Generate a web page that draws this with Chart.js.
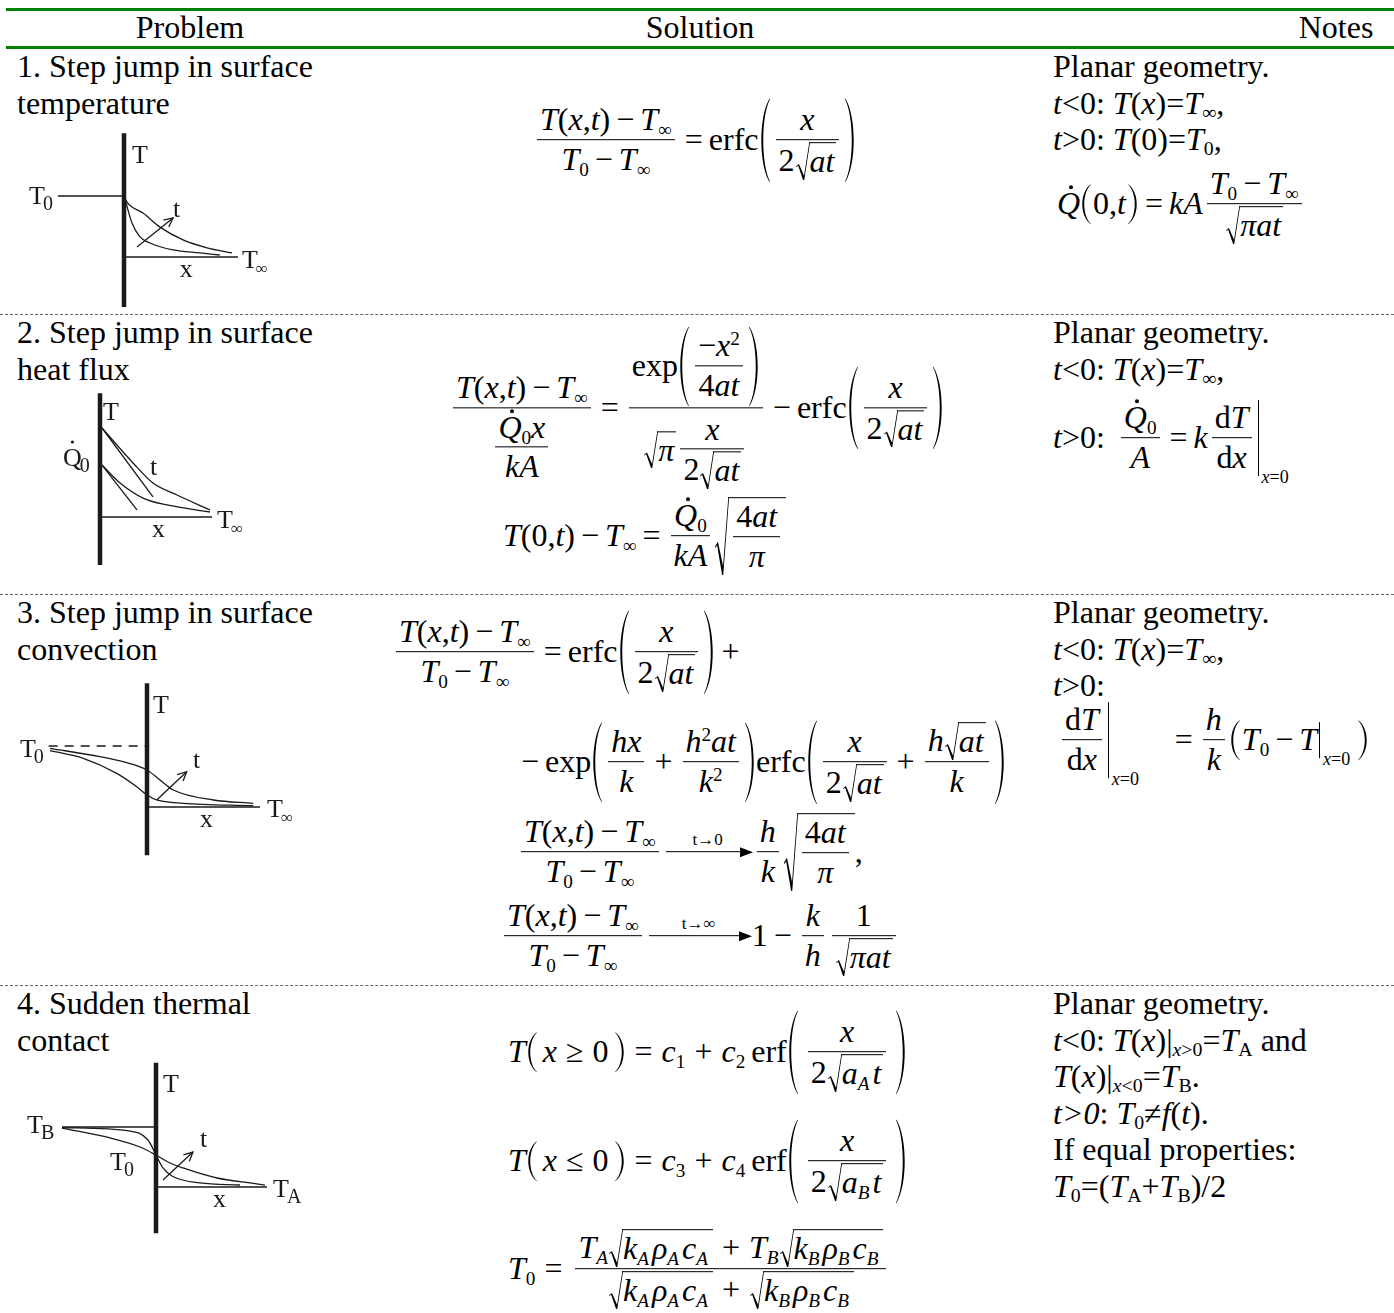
<!DOCTYPE html>
<html>
<head>
<meta charset="utf-8">
<title>Transient conduction in a semi-infinite solid</title>
<script src="https://cdn.jsdelivr.net/npm/chart.js@4.4.1/dist/chart.umd.min.js"></script>
<style>
    body { margin: 0; width: 1394px; height: 1313px; overflow: hidden; background: #fff; color: #000;
           font-family: "Liberation Serif", "Times New Roman", serif; position: relative; }
    .txt { position: absolute; font-size: 32px; line-height: 36.5px; white-space: nowrap; }
    .txt sub { font-size: .62em; vertical-align: -.25em; line-height: 0; }
    .hl { position: absolute; left: 6px; right: 0; height: 3px; background: #008000; }
    .sep { position: absolute; left: 0; right: 0; border-top: 1px dashed #666; }

    /* equation layout */
    .eq { position: absolute; display: flex; align-items: center; font-size: 32px; line-height: 1.12;
          white-space: nowrap; transform: translateY(-50%); }
    .eq i { font-family: "Liberation Serif", "Times New Roman", serif; font-style: italic; }
    .rw { display: flex; align-items: center; }
    .fr { display: inline-grid; grid-template-rows: 1fr 1fr; margin: 0 4px; }
    .nu { display: flex; align-items: flex-end; justify-content: center; border-bottom: 1.5px solid #000; padding: 0 3px 1px; }
    .de { display: flex; align-items: flex-start; justify-content: center; padding: 2px 3px 0; }
    .pw { display: flex; align-items: stretch; margin: 0 1px; }
    .pl, .pr { width: 10px; flex: none; background-repeat: no-repeat; background-size: 100% 100%;
               background-image: url("data:image/svg+xml;utf8,<svg xmlns='http://www.w3.org/2000/svg' viewBox='0 0 10 100' preserveAspectRatio='none'><path d='M9.6 0.5 C-1.5 22 -1.5 78 9.6 99.5 L10 99 C1 78 1 22 10 1 Z'/></svg>"); }
    .pr { transform: scaleX(-1); }
    .pc { padding: 2px 2px; }
    .rt { display: flex; align-items: stretch; margin-left: 1px; }
    .rs { width: 14px; flex: none; background-repeat: no-repeat; background-size: 100% 100%;
          background-image: url("data:image/svg+xml;utf8,<svg xmlns='http://www.w3.org/2000/svg' viewBox='0 0 16 100' preserveAspectRatio='none'><path d='M0 63 L3.4 57 L9.2 88 L15.2 0 L16 0 L16 1.6 L9.4 100 L8.2 100 L2.4 61 L0.7 65 Z'/></svg>"); }
    .rc { display: flex; align-items: center; border-top: 1.5px solid #000; padding: 1px 2px 0 1px; margin-left: -1px; }
    .s sub { font-size: .6em; vertical-align: -.3em; line-height: 0; }
    .s sup { font-size: .6em; vertical-align: .6em; line-height: 0; }
    .op { margin: 0 6px; }
    .wide .op { margin: 0 9px; }
    .wide .pc { padding: 2px 6px; }
    .wide .rc .s { margin-right: 3px; }
    .dt { position: relative; display: inline-block; }
    .dt::after { content: ""; position: absolute; width: 4px; height: 4px; border-radius: 50%; background: #000; left: 50%; top: -1px; }
    .ev { align-self: stretch; border-left: 1.5px solid #000; position: relative; margin-left: 2px; flex: none; }
    .evs { position: absolute; left: 3px; bottom: -10px; font-size: 18px; line-height: 1; }
    .ar { display: inline-grid; grid-template-rows: 1fr 1fr; margin: 0 3px; }
    .arl { position: relative; text-align: center; font-size: 17px; line-height: 1; border-bottom: 1.5px solid #000; padding-bottom: 3px; }
    .arl::after { content: ""; position: absolute; right: -3px; bottom: -6.5px; border-left: 13px solid #000;
                  border-top: 5.5px solid transparent; border-bottom: 5.5px solid transparent; }
</style>
</head>
<body>

<!-- header rules and column titles -->
<div class="hl" style="top:8px"></div>
<div class="txt" style="left:190px;top:9px;transform:translateX(-50%)">Problem</div>
<div class="txt" style="left:700px;top:9px;transform:translateX(-50%)">Solution</div>
<div class="txt" style="left:1336px;top:9px;transform:translateX(-50%)">Notes</div>
<div class="hl" style="top:46px"></div>

<div class="sep" style="top:314px"></div>
<div class="sep" style="top:594px"></div>
<div class="sep" style="top:985px"></div>

<!-- problem column -->
<div class="txt" style="left:17px;top:48px">1. Step jump in surface<br>temperature</div>
<div class="txt" style="left:17px;top:314px">2. Step jump in surface<br>heat flux</div>
<div class="txt" style="left:17px;top:594px">3. Step jump in surface<br>convection</div>
<div class="txt" style="left:17px;top:985px">4. Sudden thermal<br>contact</div>

<!-- notes column -->
<div class="txt" style="left:1053px;top:48px">Planar geometry.<br><i>t</i>&lt;0: <i>T</i>(<i>x</i>)=<i>T</i><sub>∞</sub>,<br><i>t</i>&gt;0: <i>T</i>(0)=<i>T</i><sub>0</sub>,</div>
<div class="txt" style="left:1053px;top:314px">Planar geometry.<br><i>t</i>&lt;0: <i>T</i>(<i>x</i>)=<i>T</i><sub>∞</sub>,</div>
<div class="txt" style="left:1053px;top:594px">Planar geometry.<br><i>t</i>&lt;0: <i>T</i>(<i>x</i>)=<i>T</i><sub>∞</sub>,<br><i>t</i>&gt;0:</div>
<div class="txt" style="left:1053px;top:985px">Planar geometry.<br><i>t</i>&lt;0: <i>T</i>(<i>x</i>)|<sub><i>x</i>&gt;0</sub>=<i>T</i><sub>A</sub> and<br><i>T</i>(<i>x</i>)|<sub><i>x</i>&lt;0</sub>=<i>T</i><sub>B</sub>.<br><i>t&gt;0</i>: <i>T</i><sub>0</sub>≠<i>f</i>(<i>t</i>).<br>If equal properties:<br><i>T</i><sub>0</sub>=(<i>T</i><sub>A</sub>+<i>T</i><sub>B</sub>)/2</div>

<script>
// ---------------------------------------------------------------------------
// Sketch data (x along the wall normal, x-axis end = 1; T scaled so T0 / TB = 1, T∞ / TA = 0)
// ---------------------------------------------------------------------------

// 1. step jump in surface temperature
const s1Axis  = [[0, 2.03], [0, -0.82]];
const s1Base  = [[0, 0], [1.0, 0]];
const s1Level = [[-0.58, 1], [0, 1]];
const s1Late  = [[0, 1], [0.026, 0.9], [0.167, 0.72], [0.316, 0.49], [0.518, 0.28], [0.728, 0.15], [0.947, 0.066]];
const s1Early = [[0, 1], [0.018, 0.885], [0.07, 0.557], [0.14, 0.33], [0.228, 0.23], [0.43, 0.115], [0.667, 0.066], [0.84, 0.033]];
const s1Arrow = [[0.114, 0.164], [0.43, 0.64]];
const s1Labels = [['T', '', 0.07, 1.54], ['T', '0', -0.833, 0.87], ['t', '', 0.43, 0.656], ['x', '', 0.49, -0.33], ['T', '∞', 1.035, -0.18]];

// 2. step jump in surface heat flux
const s2Axis     = [[0, 1.39], [0, -0.54]];
const s2Base     = [[0, 0], [1.0, 0]];
const s2Late     = [[0.018, 1.0], [0.295, 0.607], [0.473, 0.382], [0.688, 0.247], [0.982, 0.079]];
const s2LateTan  = [[0.018, 1.0], [0.473, 0.225]];
const s2Early    = [[0.018, 0.584], [0.179, 0.382], [0.384, 0.213], [0.598, 0.135], [0.982, 0.056]];
const s2EarlyTan = [[0.018, 0.584], [0.33, 0.079]];
const s2Labels = [['T', '', 0.027, 1.09], ['Q', '0', -0.33, 0.573, 'dot'], ['t', '', 0.446, 0.472], ['x', '', 0.464, -0.225], ['T', '∞', 1.045, -0.124]];

// 3. step jump in surface convection
const s3Axis  = [[0, 2.03], [0, -0.79]];
const s3Base  = [[0, 0], [1.0, 0]];
const s3Level = [[-0.87, 1], [0, 1]];
const s3Late  = [[-0.858, 0.962], [-0.416, 0.825], [-0.18, 0.727], [0, 0.607], [0.115, 0.443], [0.233, 0.279], [0.587, 0.115], [0.94, 0.06]];
const s3Early = [[-0.858, 0.923], [-0.564, 0.798], [-0.268, 0.552], [-0.091, 0.333], [0, 0.197], [0.086, 0.115], [0.321, 0.06], [0.94, 0.022]];
const s3Arrow = [[0.086, 0.115], [0.351, 0.579]];
const s3Labels = [['T', '', 0.053, 1.54], ['T', '0', -1.124, 0.82], ['t', '', 0.407, 0.64], ['x', '', 0.469, -0.33], ['T', '∞', 1.062, -0.16]];

// 4. sudden thermal contact
const s4Axis  = [[0, 2.07], [0, -0.77]];
const s4Base  = [[0, 0], [1.0, 0]];
const s4Level = [[-0.847, 1], [0, 1]];
const s4Late  = [[-0.847, 0.983], [-0.414, 0.817], [-0.144, 0.667], [0, 0.533], [0.126, 0.4], [0.243, 0.317], [0.55, 0.15], [0.847, 0.067], [0.982, 0.033]];
const s4Early = [[-0.847, 0.99], [-0.234, 0.933], [-0.072, 0.783], [0, 0.533], [0.063, 0.317], [0.144, 0.183], [0.396, 0.067], [0.757, 0.033]];
const s4Arrow = [[0.063, 0.117], [0.333, 0.583]];
const s4Labels = [['T', '', 0.063, 1.58], ['T', 'B', -1.162, 0.9], ['T', '0', -0.414, 0.283], ['t', '', 0.396, 0.667], ['x', '', 0.514, -0.333], ['T', 'A', 1.054, -0.167]];

// ---------------------------------------------------------------------------
// Sketch rendering (Chart.js scatter with lines, axes hidden)
// ---------------------------------------------------------------------------
const INK = '#1a1a1a';

function line(arr, width, extra = {}) {
    return Object.assign({
        data: arr.map(([x, y]) => ({ x, y })),
        showLine: true,
        borderColor: INK,
        borderWidth: width,
        pointRadius: 0,
        tension: 0,
        clip: false
    }, extra);
}
const curve = arr => line(arr, 1.3, { cubicInterpolationMode: 'monotone' });

// labels + arrow heads, placed through the chart scales
const sketchLabels = {
    id: 'sketchLabels',
    afterDatasetsDraw(chart, args, opts) {
        const { ctx, scales: { x, y } } = chart;
        ctx.save();
        ctx.fillStyle = INK;
        ctx.textBaseline = 'alphabetic';
        (opts.labels || []).forEach(([txt, sub, lx, ly, mark]) => {
            const px = x.getPixelForValue(lx), py = y.getPixelForValue(ly);
            ctx.font = '26px "Liberation Serif"';
            ctx.fillText(txt, px, py);
            const w = ctx.measureText(txt).width;
            if (mark === 'dot') {
                ctx.beginPath();
                ctx.arc(px + w / 2, py - 24, 1.6, 0, Math.PI * 2);
                ctx.fill();
            }
            if (sub) {
                ctx.font = (sub === '∞' ? '17px' : '20px') + ' "Liberation Serif"';
                ctx.fillText(sub, px + w - 2, py + 6);
            }
        });
        chart.data.datasets.forEach((ds, i) => {
            if (!ds.arrow) return;
            const pts = chart.getDatasetMeta(i).data;
            const a = pts[pts.length - 2], b = pts[pts.length - 1];
            const ang = Math.atan2(b.y - a.y, b.x - a.x);
            ctx.strokeStyle = INK;
            ctx.lineWidth = 1.3;
            ctx.beginPath();
            ctx.moveTo(b.x - 10 * Math.cos(ang - 0.45), b.y - 10 * Math.sin(ang - 0.45));
            ctx.lineTo(b.x, b.y);
            ctx.lineTo(b.x - 10 * Math.cos(ang + 0.45), b.y - 10 * Math.sin(ang + 0.45));
            ctx.stroke();
        });
        ctx.restore();
    }
};

// box = [left, top, width, height] on the page, origin = page pixel of (0,0), unit = px per unit
const sketches = [
    { box: [20, 125, 270, 188], origin: [124, 257], unit: [114, 61], labels: s1Labels,
      datasets: [line(s1Axis, 4.5), line(s1Base, 1.5), line(s1Level, 1.5), curve(s1Late), curve(s1Early), line(s1Arrow, 1.3, { arrow: true })] },
    { box: [20, 388, 270, 182], origin: [100, 517], unit: [112, 89], labels: s2Labels,
      datasets: [line(s2Axis, 4.5), line(s2Base, 1.5), curve(s2Late), line(s2LateTan, 1.3), curve(s2Early), line(s2EarlyTan, 1.3)] },
    { box: [10, 678, 285, 182], origin: [147, 807], unit: [113, 61], labels: s3Labels,
      datasets: [line(s3Axis, 4.5), line(s3Base, 1.5), line(s3Level, 1.5, { borderDash: [9, 7] }), curve(s3Late), curve(s3Early), line(s3Arrow, 1.3, { arrow: true })] },
    { box: [15, 1058, 295, 180], origin: [156, 1187], unit: [111, 60], labels: s4Labels,
      datasets: [line(s4Axis, 4.5), line(s4Base, 1.5), line(s4Level, 1.5), curve(s4Late), curve(s4Early), line(s4Arrow, 1.3, { arrow: true })] }
];

sketches.forEach(sk => {
    const [left, top, w, h] = sk.box, [ox, oy] = sk.origin, [ux, uy] = sk.unit;
    const cv = document.createElement('canvas');
    cv.width = w;
    cv.height = h;
    cv.style.cssText = `position:absolute;left:${left}px;top:${top}px;width:${w}px;height:${h}px`;
    document.body.appendChild(cv);
    new Chart(cv, {
        type: 'scatter',
        data: { datasets: sk.datasets },
        options: {
            responsive: false,
            animation: false,
            devicePixelRatio: 1,
            events: [],
            layout: { padding: 0 },
            scales: {
                x: { type: 'linear', display: false, min: (left - ox) / ux, max: (left + w - ox) / ux },
                y: { type: 'linear', display: false, min: (oy - top - h) / uy, max: (oy - top) / uy }
            },
            plugins: { legend: { display: false }, tooltip: { enabled: false }, sketchLabels: { labels: sk.labels } }
        },
        plugins: [sketchLabels]
    });
});

// ---------------------------------------------------------------------------
// Equations (HTML)
// ---------------------------------------------------------------------------
const I   = s => `<i>${s}</i>`;
const S   = (b, s) => `<span class="s">${b}<sub>${s}</sub></span>`;
const Sp  = (b, s) => `<span class="s">${b}<sup>${s}</sup></span>`;
const O   = s => `<span class="op">${s}</span>`;
const F   = (n, d) => `<span class="fr"><span class="nu"><span class="rw">${n}</span></span><span class="de"><span class="rw">${d}</span></span></span>`;
const P   = c => `<span class="pw"><span class="pl"></span><span class="rw pc">${c}</span><span class="pr"></span></span>`;
const R   = c => `<span class="rt"><span class="rs"></span><span class="rc">${c}</span></span>`;
const EV  = (sub, w) => `<span class="ev" style="width:${w}px"><span class="evs">${sub}</span></span>`;
const AR  = (lbl, w) => `<span class="ar"><span class="arl" style="width:${w}px">${lbl}</span><span></span></span>`;
const DOT = b => `<span class="dt">${b}</span>`;

const Tinf = S(I('T'), '∞');
const T0 = S(I('T'), '0');
const Q0 = S(DOT(I('Q')), '0');
const TXT = `${I('T')}(${I('x')},${I('t')})`;
const ratio = F(`${TXT}${O('−')}${Tinf}`, `${T0}${O('−')}${Tinf}`);
const erfcArg = P(F(I('x'), `2${R(I('at'))}`));
const kA = `${S(I('k'), I('A'))}${S(I('ρ'), I('A'))}${S(I('c'), I('A'))}`;
const kB = `${S(I('k'), I('B'))}${S(I('ρ'), I('B'))}${S(I('c'), I('B'))}`;

// [left, centre y, html, extra class]
const equations = [
    [533, 140, ratio + O('=') + 'erfc' + erfcArg],
    [1057, 204, DOT(I('Q')) + P(`0,${I('t')}`) + O('=') + I('kA') + F(`${T0}${O('−')}${Tinf}`, R(`${I('π')}${I('at')}`))],

    [449, 408, F(`${TXT}${O('−')}${Tinf}`, F(`${Q0}${I('x')}`, I('kA'))) + O('=') +
               F(`exp${P(F(`−${Sp(I('x'), '2')}`, `4${I('at')}`))}`, `${R(I('π'))}${F(I('x'), `2${R(I('at'))}`)}`) +
               O('−') + 'erfc' + erfcArg],
    [503, 536, `${I('T')}(0,${I('t')})${O('−')}${Tinf}${O('=')}${F(Q0, I('kA'))}${R(F(`4${I('at')}`, I('π')))}`],
    [1053, 438, `${I('t')}&gt;0:<span style="width:12px"></span>${F(Q0, I('A'))}${O('=')}${I('k')}${F(`d${I('T')}`, `d${I('x')}`)}${EV(`${I('x')}=0`, 36)}`],

    [392, 652, ratio + O('=') + 'erfc' + erfcArg + O('+')],
    [515, 762, O('−') + 'exp' + P(F(I('hx'), I('k')) + O('+') + F(`${Sp(I('h'), '2')}${I('at')}`, Sp(I('k'), '2'))) +
               'erfc' + P(F(I('x'), `2${R(I('at'))}`) + O('+') + F(`${I('h')}${R(I('at'))}`, I('k')))],
    [517, 852, ratio + AR('t→0', 84) + F(I('h'), I('k')) + R(F(`4${I('at')}`, I('π'))) + ','],
    [500, 936, ratio + AR('t→∞', 100) + '1' + O('−') + F(I('k'), I('h')) + F('1', R(`${I('π')}${I('at')}`))],
    [1058, 740, F(`d${I('T')}`, `d${I('x')}`) + EV(`${I('x')}=0`, 60) + O('=') + F(I('h'), I('k')) +
                P(`${T0}${O('−')}${I('T')}${EV(`${I('x')}=0`, 36)}`)],

    [508, 1052, I('T') + P(`${I('x')}${O('≥')}0`) + O('=') + S(I('c'), '1') + O('+') + S(I('c'), '2') +
                '<span style="margin-left:6px">erf</span>' + P(F(I('x'), `2${R(`${S(I('a'), I('A'))}${I('t')}`)}`)), 'wide'],
    [508, 1161, I('T') + P(`${I('x')}${O('≤')}0`) + O('=') + S(I('c'), '3') + O('+') + S(I('c'), '4') +
                '<span style="margin-left:6px">erf</span>' + P(F(I('x'), `2${R(`${S(I('a'), I('B'))}${I('t')}`)}`)), 'wide'],
    [508, 1269, T0 + O('=') + F(`${S(I('T'), I('A'))}${R(kA)}${O('+')}${S(I('T'), I('B'))}${R(kB)}`, `${R(kA)}${O('+')}${R(kB)}`), 'wide']
];

equations.forEach(([left, cy, html, cls]) => {
    const el = document.createElement('div');
    el.className = 'eq' + (cls ? ' ' + cls : '');
    el.style.left = left + 'px';
    el.style.top = cy + 'px';
    el.innerHTML = html;
    document.body.appendChild(el);
});
</script>
</body>
</html>
